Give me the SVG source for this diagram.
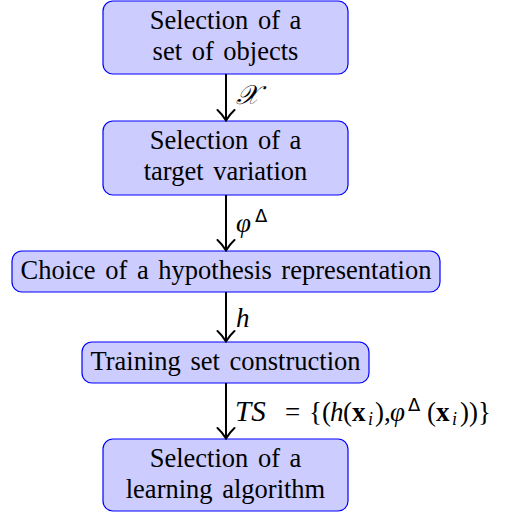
<svg xmlns="http://www.w3.org/2000/svg" width="510" height="512" viewBox="0 0 510 512">
<defs>
<style>
.box{fill:#ccccff;stroke:#0000ff;stroke-width:1.2}
.t{font-family:"Liberation Serif","Times New Roman",serif;font-size:26.5px;fill:#000;text-anchor:middle;word-spacing:3px}
.m{font-family:"Liberation Serif","Times New Roman",serif;font-size:27px;fill:#000}
.e{stroke:#000;stroke-width:2;fill:none}
</style>
<marker id="ah" viewBox="0 0 20 14" refX="10" refY="12" markerWidth="20" markerHeight="14" markerUnits="userSpaceOnUse" orient="0">
<path d="M1.5,2 Q6,6 10,12.5 Q14,6 18.5,2" fill="none" stroke="#000" stroke-width="2" stroke-linecap="round"/>
</marker>
</defs>
<g id="n1"><rect class="box" x="103" y="1" width="245" height="73" rx="10"/><text class="t" x="225.5" y="29">Selection of a</text><text class="t" x="225.5" y="60">set of objects</text></g>
<g id="n2"><rect class="box" x="103" y="121" width="245" height="74" rx="10"/><text class="t" x="225.5" y="149">Selection of a</text><text class="t" x="225.5" y="180">target variation</text></g>
<g id="n3"><rect class="box" x="12" y="251" width="428" height="41" rx="10"/><text class="t" x="226" y="279">Choice of a hypothesis representation</text></g>
<g id="n4"><rect class="box" x="82" y="342" width="287" height="41" rx="10"/><text class="t" x="225.5" y="370">Training set construction</text></g>
<g id="n5"><rect class="box" x="103" y="439" width="245" height="72" rx="10"/><text class="t" x="225.5" y="467">Selection of a</text><text class="t" x="225.5" y="498">learning algorithm</text></g>
<g id="edges">
<line class="e" x1="226" y1="74" x2="226" y2="120" marker-end="url(#ah)"/>
<line class="e" x1="226" y1="195" x2="226" y2="250" marker-end="url(#ah)"/>
<line class="e" x1="226" y1="292" x2="226" y2="341" marker-end="url(#ah)"/>
<line class="e" x1="226" y1="383" x2="226" y2="438" marker-end="url(#ah)"/>
<text class="m" x="236" y="104" font-style="italic">𝒳</text>
<text class="m" x="236" y="232"><tspan font-style="italic">φ</tspan><tspan x="255" y="222" font-size="18" font-family="DejaVu Sans, sans-serif">Δ</tspan></text>
<text class="m" x="236" y="327" font-style="italic">h</text>
<text class="m" y="421"><tspan x="235" font-style="italic" font-size="29">TS</tspan><tspan x="285">=</tspan><tspan x="309">{(</tspan><tspan x="330" font-style="italic">h</tspan><tspan x="343">(</tspan><tspan x="352" font-weight="bold">x</tspan><tspan x="368" y="425" font-size="18" font-style="italic">i</tspan><tspan x="375" y="421">),</tspan><tspan x="390" font-style="italic">φ</tspan><tspan x="408" y="411" font-size="18" font-family="DejaVu Sans, sans-serif">Δ</tspan><tspan x="427" y="421">(</tspan><tspan x="436" font-weight="bold">x</tspan><tspan x="452" y="425" font-size="18" font-style="italic">i</tspan><tspan x="460" y="421">))}</tspan></text>
</g>
</svg>
